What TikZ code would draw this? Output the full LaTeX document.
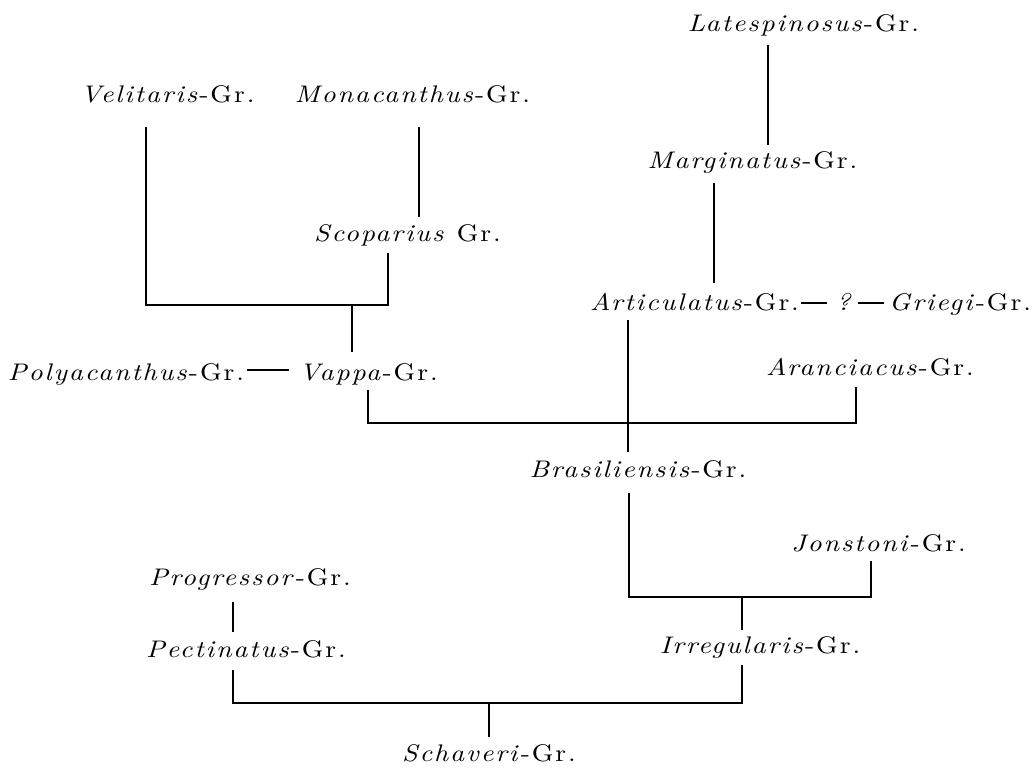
\documentclass[tikz,border=0pt]{standalone}
\usepackage{fontspec}
\setmainfont{lmroman10-regular.otf}[ItalicFont=lmroman10-italic.otf,BoldFont=lmroman10-bold.otf,LetterSpace=8,FakeStretch=1.15]
\begin{document}
\begin{tikzpicture}[x=1pt,y=-1pt,
  lbl/.style={anchor=base,inner sep=0pt,font=\fontsize{24}{28}\selectfont},
  conn/.style={line width=1.6pt,line cap=butt},
  dashln/.style={line width=1.4pt}]
\useasboundingbox[fill=white] (0,0) rectangle (1035,768);
\newcommand\grp[1]{\textit{#1}-Gr.}
% labels
\node[lbl] (lat)   at (803.5,32)  {\grp{Latespinosus}};
\node[lbl] (velit) at (167.5,102) {\grp{Velitaris}};
\node[lbl] (mona)  at (412.5,102) {\grp{Monacanthus}};
\node[lbl] (marg)  at (752.5,168) {\grp{Marginatus}};
\node[lbl] (scop)  at (407.5,241) {\textit{Scoparius} Gr.};
\node[lbl] (artic) at (694.5,310) {\grp{Articulatus}};
\node[lbl] (qm)    at (845,310)   {\textit{?}};
\node[lbl] (grie)  at (960,310)   {\grp{Griegi}};
\node[lbl] (poly)  at (126,380)   {\grp{Polyacanthus}};
\node[lbl] (vappa) at (368.5,380) {\grp{Vappa}};
\node[lbl] (aran)  at (870,375)   {\grp{Aranciacus}};
\node[lbl] (bras)  at (638,477)   {\grp{Brasiliensis}};
\node[lbl] (jons)  at (878.5,551) {\grp{Jonstoni}};
\node[lbl] (prog)  at (250,585)   {\grp{Progressor}};
\node[lbl] (pect)  at (246,657)   {\grp{Pectinatus}};
\node[lbl] (irr)   at (760,653)   {\grp{Irregularis}};
\node[lbl] (schav) at (489,761)   {\grp{Schaveri}};
% junctions
\coordinate (j1) at (352,305);
\coordinate (j2) at (628,423);
\coordinate (j3) at (742,597);
\coordinate (j4) at (489,703);
% connectors
\draw[conn] ([shift={(-35.5,13)}]lat.base) -- ([shift={(15.5,-23)}]marg.base);
\draw[conn] ([shift={(-38.5,15)}]marg.base) -- ([shift={(19.5,-27)}]artic.base);
\draw[dashln] ([shift={(2,-7)}]artic.base east) -- ([shift={(-9,-7)}]qm.base west);
\draw[dashln] ([shift={(4,-7)}]qm.base east) -- ([shift={(-5,-7)}]grie.base west);
\draw[conn] ([shift={(6.5,25)}]mona.base) -- ([shift={(11.5,-24)}]scop.base);
\draw[conn] ([shift={(-21.5,25)}]velit.base) |- (j1) -| ([shift={(-19.5,12)}]scop.base);
\draw[conn] (j1) -- ([shift={(-16.5,-28)}]vappa.base);
\draw[dashln] ([shift={(3,-10)}]poly.base east) -- ([shift={(-10,-10)}]vappa.base west);
\draw[conn] ([shift={(-0.5,10)}]vappa.base) |- (j2) -| ([shift={(-14,12)}]aran.base);
\draw[conn] ([shift={(-66.5,10)}]artic.base) -- (j2) -- ([shift={(-10,-25)}]bras.base);
\draw[conn] ([shift={(-9,16)}]bras.base) |- (j3) -| ([shift={(-7.5,10)}]jons.base);
\draw[conn] (j3) -- ([shift={(-18,-23)}]irr.base);
\draw[conn] ([shift={(-17,17)}]prog.base) -- ([shift={(-13,-25)}]pect.base);
\draw[conn] ([shift={(-13,13)}]pect.base) |- (j4) -| ([shift={(-18,12)}]irr.base);
\draw[conn] (j4) -- ([shift={(0,-24)}]schav.base);
\end{tikzpicture}
\end{document}
